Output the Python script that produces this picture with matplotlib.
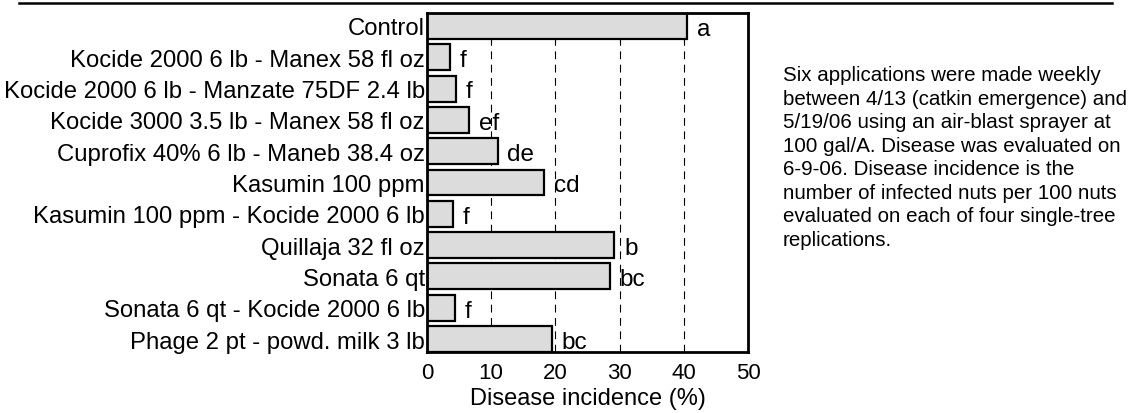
import numpy as np
import matplotlib
matplotlib.use("Agg")
import matplotlib.pyplot as plt

# Treatments, top to bottom
treatments = [
    "Control",
    "Kocide 2000 6 lb - Manex 58 fl oz",
    "Kocide 2000 6 lb - Manzate 75DF 2.4 lb",
    "Kocide 3000 3.5 lb - Manex 58 fl oz",
    "Cuprofix 40% 6 lb - Maneb 38.4 oz",
    "Kasumin 100 ppm",
    "Kasumin 100 ppm - Kocide 2000 6 lb",
    "Quillaja 32 fl oz",
    "Sonata 6 qt",
    "Sonata 6 qt - Kocide 2000 6 lb",
    "Phage 2 pt - powd. milk 3 lb",
]
incidence = [40.5, 3.6, 4.5, 6.6, 11.0, 18.3, 4.1, 29.2, 28.5, 4.4, 19.4]
letters = ["a", "f", "f", "ef", "de", "cd", "f", "b", "bc", "f", "bc"]
xticks = [0, 10, 20, 30, 40, 50]

note = ("Six applications were made weekly\n"
        "between 4/13 (catkin emergence) and\n"
        "5/19/06 using an air-blast sprayer at\n"
        "100 gal/A. Disease was evaluated on\n"
        "6-9-06. Disease incidence is the\n"
        "number of infected nuts per 100 nuts\n"
        "evaluated on each of four single-tree\n"
        "replications.")

plt.rcParams['font.family'] = ['Liberation Sans', 'DejaVu Sans']

fig = plt.figure(figsize=(11.41, 4.14), dpi=100)
ax = fig.add_axes([0.3742, 0.1473, 0.2814, 0.8189])

bar_h = 0.83
y = np.arange(len(treatments))
ax.barh(y, incidence, height=bar_h, color="#dcdcdc", edgecolor="black",
        linewidth=1.6, zorder=2)

# significance letters, sitting near the bottom edge of each bar
for yi, v, lab in zip(y, incidence, letters):
    ax.annotate(lab, (v, yi + bar_h / 2), xytext=(7, 3), textcoords="offset points",
                ha="left", va="baseline", fontsize=17.5, zorder=3)

for gx in xticks[1:-1]:
    ax.axvline(gx, color="black", lw=0.8, ls=(0, (7, 5)), zorder=0)

ax.set_xlim(0, 50)
ax.set_ylim(len(treatments) - 1 + bar_h / 2, -bar_h / 2)
ax.set_xticks(xticks)
ax.set_yticks(y)
ax.set_yticklabels(treatments, fontsize=17.2)
ax.tick_params(axis="x", length=0, pad=7, labelsize=16)
ax.tick_params(axis="y", length=0, pad=1.5)
ax.set_xlabel("Disease incidence (%)", fontsize=17, labelpad=3)
for s in ax.spines.values():
    s.set_linewidth(2)

# rule across the top of the figure
fig.add_artist(plt.Line2D([0.017, 0.975], [0.990, 0.990], color="black", lw=1.8,
                          transform=fig.transFigure))

fig.text(0.686, 0.84, note, ha="left", va="top", fontsize=14.75, linespacing=1.3)

fig.savefig("out.png", dpi=100)
